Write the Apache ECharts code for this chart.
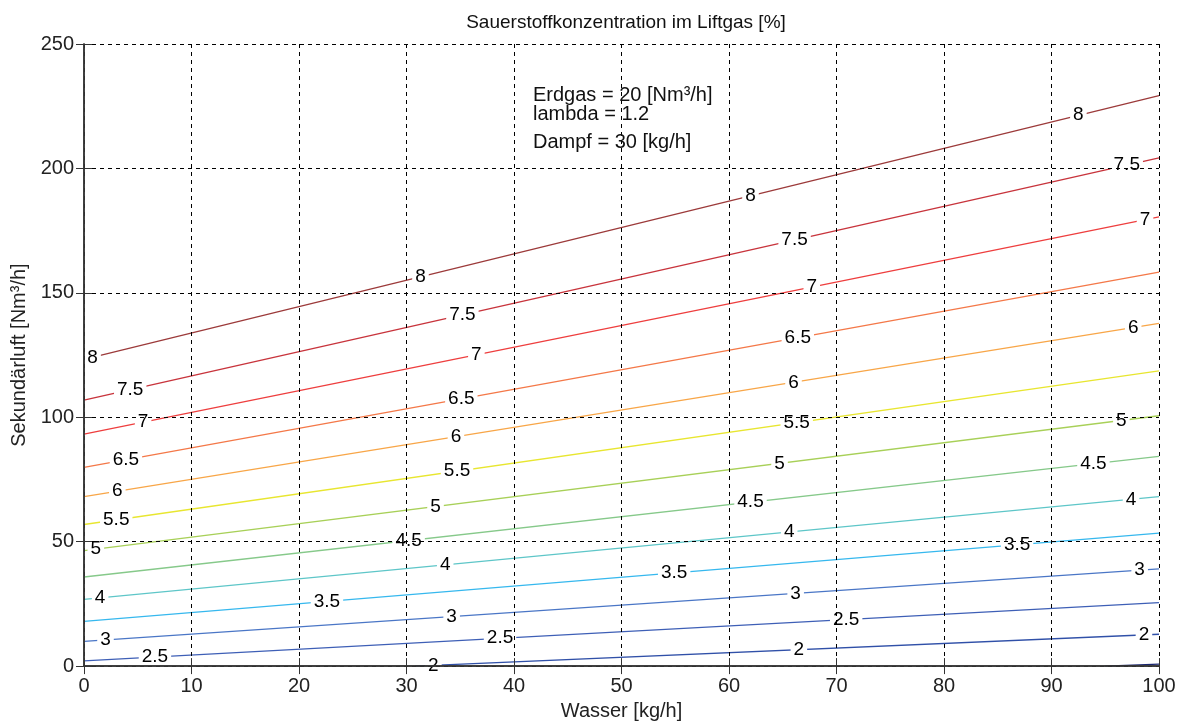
<!DOCTYPE html>
<html>
<head>
<meta charset="utf-8">
<script src="https://cdn.jsdelivr.net/npm/echarts@6/dist/echarts.min.js"></script>
<style>
html,body{margin:0;padding:0;background:#fff;}
#chart{width:1179px;height:726px;}
</style>
</head>
<body>
<div id="chart"></div>
<script>
// ---- data ----
const levels      = [8, 7.5, 7, 6.5, 6, 5.5, 5, 4.5, 4, 3.5, 3, 2.5, 2, 1.5];
const lineStartX  = [0, 0, 0, 0, 0, 0, 0, 0, 0, 0, 0, 0, 30.8, 95];
const lineStartY  = [123.3, 106.9, 93.2, 79.9, 68.1, 56.9, 46.4, 35.8, 26.8, 18.0, 9.9, 2.1, 0, 0];
const lineEndX    = [100, 100, 100, 100, 100, 100, 100, 100, 100, 100, 100, 100, 100, 100];
const lineEndY    = [229.3, 204.2, 180.5, 158.3, 137.7, 118.6, 100.6, 84.3, 68.1, 53.4, 39.1, 25.5, 12.8, 0.8];

const labelText = ['8','8','8','8', '7.5','7.5','7.5','7.5', '7','7','7','7', '6.5','6.5','6.5',
                   '6','6','6','6', '5.5','5.5','5.5', '5','5','5','5', '4.5','4.5','4.5',
                   '4','4','4','4', '3.5','3.5','3.5', '3','3','3','3', '2.5','2.5','2.5', '2','2','2'];
const labelX = [0.8, 31.3, 62, 92.5,  4.3, 35.2, 66.1, 97,  5.5, 36.5, 67.7, 98.7,  3.9, 35.1, 66.4,
                3.1, 34.6, 66, 97.6,  3.0, 34.7, 66.3,  1.1, 32.7, 64.7, 96.5,  30.2, 62, 93.9,
                1.5, 33.6, 65.6, 97.4,  22.6, 54.9, 86.8,  2, 34.2, 66.2, 98.2,  6.6, 38.7, 70.9,  32.5, 66.5, 98.6];
const labelY = [124.1, 156.5, 189.0, 221.4,  111.1, 141.2, 171.2, 201.3,  98.0, 125.1, 152.3, 179.4,  83.0, 107.4, 132.0,
                70.3, 92.2, 114.0, 136.0,  58.8, 78.3, 97.8,  47.0, 64.1, 81.5, 98.7,  50.4, 65.9, 81.3,
                27.4, 40.7, 53.9, 67.0,  26.0, 37.4, 48.7,  10.5, 19.9, 29.2, 38.6,  3.6, 11.2, 18.7,  0.3, 6.6, 12.5];

const xTicks = [0,10,20,30,40,50,60,70,80,90,100];
const yTicks = [0,50,100,150,200,250];

const titleText = 'Sauerstoffkonzentration im Liftgas [%]';
const xName = 'Wasser [kg/h]';
const yName = 'Sekundärluft [Nm³/h]';
const noteLines = ['Erdgas = 20 [Nm³/h]', 'lambda = 1.2', 'Dampf = 30 [kg/h]'];

// ---- styles ----
const levelColors = ['#9c3a3a', '#c8343c', '#ee3e3e', '#f47848', '#f8a648', '#e8e630', '#a8d058',
                     '#86c98a', '#5ec6c8', '#36b8ee', '#4a76c6', '#3e5fb6', '#3050a8', '#1a2670'];
const noteTops = [85, 104, 132];
const FONT = '"Liberation Sans", Arial, sans-serif';

const chart = echarts.init(document.getElementById('chart'), null, {renderer: 'canvas'});

const series = [];
levels.forEach((lv, i) => {
  series.push({
    type: 'line',
    name: String(lv),
    data: [[lineStartX[i], lineStartY[i]], [lineEndX[i], lineEndY[i]]],
    showSymbol: false,
    symbol: 'none',
    lineStyle: {color: levelColors[i], width: 1.3},
    z: 2,
    silent: true,
    animation: false
  });
});
series.push({
  type: 'scatter',
  data: labelText.map((t, i) => ({value: [labelX[i], labelY[i]], name: t})),
  symbolSize: 0,
  itemStyle: {opacity: 1},
  z: 3,
  silent: true,
  animation: false,
  label: {
    show: true,
    position: 'inside',
    formatter: p => p.name,
    color: '#000',
    opacity: 1,
    fontFamily: FONT,
    fontSize: 19,
    backgroundColor: '#fff',
    padding: [0, 3, 0, 3]
  }
});

const gridLine = {show: true, lineStyle: {color: '#000', type: [4, 4], width: 1}};

chart.setOption({
  backgroundColor: '#fff',
  animation: false,
  title: {
    text: titleText,
    left: 621, top: 8, textAlign: 'center',
    textStyle: {fontFamily: FONT, fontSize: 19, fontWeight: 'normal', color: '#111'}
  },
  grid: {left: 84, right: 20, top: 44, bottom: 58, containLabel: false},
  xAxis: [{
    type: 'value', min: 0, max: 100, interval: 10, z: 5,
    name: xName, nameLocation: 'middle', nameGap: 33,
    nameTextStyle: {fontFamily: FONT, fontSize: 20, color: '#222'},
    axisLine: {show: true, onZero: false, lineStyle: {color: '#333', width: 1.5}},
    axisTick: {show: true, inside: true, length: 8, lineStyle: {color: '#333'}},
    axisLabel: {fontFamily: FONT, fontSize: 20, color: '#222', margin: 10,
                formatter: v => xTicks.includes(v) ? String(v) : ''},
    splitLine: gridLine
  }, {
    type: 'value', position: 'top', min: 0, max: 100, interval: 10, z: 5,
    axisLine: {show: true, lineStyle: {color: '#333', width: 1.5}},
    axisTick: {show: true, inside: true, length: 8, lineStyle: {color: '#333'}},
    axisLabel: {show: false}, splitLine: {show: false}
  }],
  yAxis: [{
    type: 'value', min: 0, max: 250, interval: 50, z: 5,
    name: yName, nameLocation: 'middle', nameGap: 51, nameRotate: 90,
    nameTextStyle: {fontFamily: FONT, fontSize: 20, color: '#222'},
    axisLine: {show: true, onZero: false, lineStyle: {color: '#333', width: 1.5}},
    axisTick: {show: true, inside: true, length: 8, lineStyle: {color: '#333'}},
    axisLabel: {fontFamily: FONT, fontSize: 20, color: '#222', margin: 10,
                formatter: v => yTicks.includes(v) ? String(v) : ''},
    splitLine: gridLine
  }, {
    type: 'value', position: 'right', min: 0, max: 250, interval: 50, z: 5,
    axisLine: {show: true, lineStyle: {color: '#333', width: 1.5}},
    axisTick: {show: true, inside: true, length: 8, lineStyle: {color: '#333'}},
    axisLabel: {show: false}, splitLine: {show: false}
  }],
  graphic: noteLines.map((t, i) => ({
    type: 'text', left: 533, top: noteTops[i], z: 10,
    style: {text: t, fontFamily: FONT, fontSize: 20, fill: '#111'}
  })),
  series: series
});
</script>
</body>
</html>
